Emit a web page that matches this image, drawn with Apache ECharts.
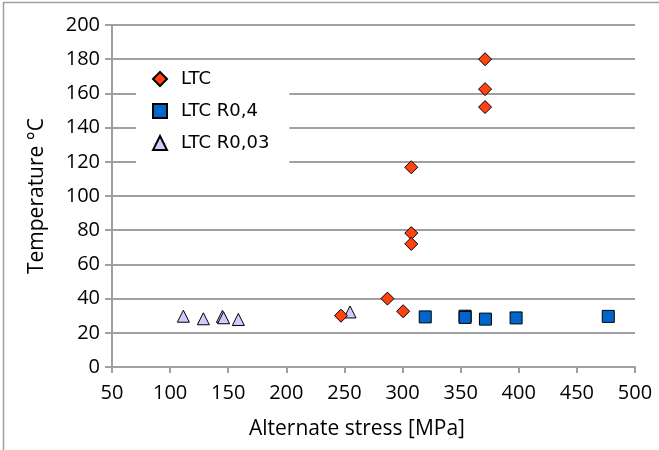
<!DOCTYPE html>
<html>
<head>
<meta charset="utf-8">
<script src="https://cdn.jsdelivr.net/npm/echarts@6/dist/echarts.min.js"></script>
<style>
  html, body { margin: 0; padding: 0; background: #fff; }
  #chart { width: 659px; height: 450px; }
</style>
</head>
<body>
<div id="chart"></div>
<script>
// LTC (diamonds)
const ltcX = [247, 287, 300.5, 307.5, 307.5, 307.5, 371, 371, 371];
const ltcY = [30, 40, 32.6, 116.8, 78.3, 72, 180, 162.5, 152];
// LTC R0,4 (squares)
const r04X = [319.5, 353.8, 353.8, 371.3, 397.7, 477];
const r04Y = [29.3, 29.7, 29.0, 28.0, 28.7, 29.6];
// LTC R0,03 (triangles)
const r003X = [111.4, 128.6, 145, 146, 158.7, 254.8];
const r003Y = [29.7, 28.2, 29.6, 28.8, 27.8, 32.2];

const seriesNames = ['LTC', 'LTC R0,4', 'LTC R0,03'];
const xTicks = { min: 50, max: 500, step: 50 };
const yTicks = { min: 0, max: 200, step: 20 };

function pairs(xs, ys) {
    return xs.map((x, i) => [x, ys[i]]);
}

const chart = echarts.init(document.getElementById('chart'));
const axisFont = '"Open Sans", sans-serif';
const gridGray = '#a0a0a0';

chart.setOption({
    animation: false,
    backgroundColor: '#fff',
    grid: { left: 112, right: 24, top: 25, bottom: 83, containLabel: false },
    xAxis: {
        type: 'value',
        min: xTicks.min, max: xTicks.max, interval: xTicks.step,
        name: 'Alternate stress [MPa]',
        nameLocation: 'middle',
        nameGap: 52,
        nameTextStyle: { fontFamily: axisFont, fontSize: 21, color: '#000', padding: [0, 33, 0, 0] },
        axisLine: { show: true, lineStyle: { color: gridGray, width: 2 } },
        axisTick: { show: true, inside: false, length: 6, lineStyle: { color: gridGray, width: 2 } },
        axisLabel: { fontFamily: axisFont, fontSize: 20, color: '#000', margin: 16 },
        splitLine: { show: false }
    },
    yAxis: {
        type: 'value',
        min: yTicks.min, max: yTicks.max, interval: yTicks.step,
        name: 'Temperature °C',
        nameLocation: 'middle',
        nameGap: 64,
        nameTextStyle: { fontFamily: axisFont, fontSize: 21, color: '#000' },
        axisLine: { show: true, lineStyle: { color: gridGray, width: 2 } },
        axisTick: { show: true, inside: false, length: 7, lineStyle: { color: gridGray, width: 2 } },
        axisLabel: { fontFamily: axisFont, fontSize: 20, color: '#000', margin: 12 },
        splitLine: { show: true, lineStyle: { color: gridGray, width: 2 } }
    },
    legend: {
        orient: 'vertical',
        left: 136,
        top: 64,
        padding: [6, 20, 14, 16],
        backgroundColor: '#fff',
        itemWidth: 14,
        itemHeight: 14,
        itemGap: 14,
        textStyle: { fontFamily: '"DejaVu Sans", sans-serif', fontSize: 18, color: '#000', padding: [0, 0, 0, 9], lineHeight: 18 },
        data: seriesNames
    },
    series: [
        {
            name: seriesNames[0], type: 'scatter', symbol: 'diamond', symbolSize: 13,
            itemStyle: { color: '#ff420e', borderColor: '#000', borderWidth: 1, opacity: 1 },
            data: pairs(ltcX, ltcY), z: 3
        },
        {
            name: seriesNames[1], type: 'scatter', symbol: 'rect', symbolSize: 12,
            itemStyle: { color: '#0066cc', borderColor: '#000', borderWidth: 1, opacity: 1 },
            data: pairs(r04X, r04Y), z: 2
        },
        {
            name: seriesNames[2], type: 'scatter', symbol: 'triangle', symbolSize: 12,
            itemStyle: { color: '#ccccff', borderColor: '#000', borderWidth: 1, opacity: 1 },
            data: pairs(r003X, r003Y), z: 2
        }
    ],
    graphic: [
        // outer frame (top and left edges only)
        { type: 'line', shape: { x1: 3, y1: 2.5, x2: 659, y2: 2.5 }, style: { stroke: '#a0a0a0', lineWidth: 1.5 } },
        { type: 'line', shape: { x1: 3.5, y1: 2, x2: 3.5, y2: 450 }, style: { stroke: '#a0a0a0', lineWidth: 1.5 } }
    ]
});
</script>
</body>
</html>
